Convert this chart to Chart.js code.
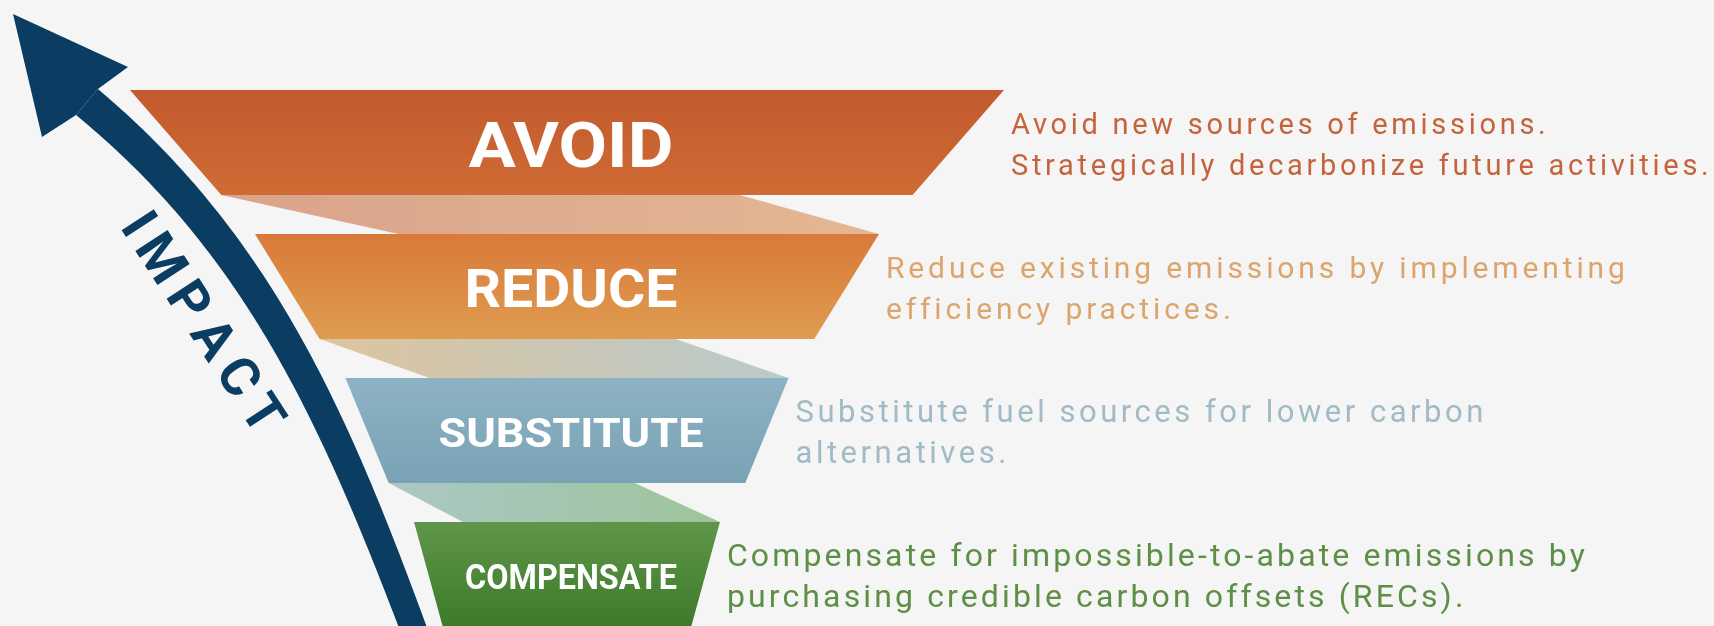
<!DOCTYPE html>
<html>
<head>
<meta charset="utf-8">
<script src="https://cdn.jsdelivr.net/npm/chart.js@4.4.0/dist/chart.umd.min.js"></script>
<style>
html,body{margin:0;padding:0;background:#f4f5f4;}
#wrap{width:1714px;height:626px;}
</style>
</head>
<body>
<div id="wrap"><canvas id="chart" width="1714" height="626"></canvas></div>
<script>

/* ================= DATA ================= */

let stages = ["AVOID","REDUCE","SUBSTITUTE","COMPENSATE"];

// funnel width of each stage, top edge and bottom edge (AVOID top = 100)
let topWidth = [100, 71.4, 50.7, 35.0];
let bottomWidth = [79.1, 56.6, 40.8, 28.4];

let descLine1 = [
"Avoid new sources of emissions.",
"Reduce existing emissions by implementing",
"Substitute fuel sources for lower carbon",
"Compensate for impossible-to-abate emissions by"
];
let descLine2 = [
"Strategically decarbonize future activities.",
"efficiency practices.",
"alternatives.",
"purchasing credible carbon offsets (RECs)."
];

let axisLabel = "IMPACT";

/* ================= STYLE ================= */

let stageColors = [["#c35a2d","#cf6b35"],["#d9793a","#df9d50"],["#8db2c3","#79a3b5"],["#5f9649","#3d7a2a"]];
let bandColors = [["#d9a38b","#e4b793"],["#ddc49f","#b9cacb"],["#abc8c5","#9ec49b"]];
let descColors = ["#c5643c","#dca56d","#a0bac6","#5e8f47"];
let navy = "#0b3c62";

let stageHalf = 0.365;              // half height of a stage, in y units
let bandTopFrac = [0.75,0.72,0.69];
let bandBottomFrac = [0.23,0.19,0.16];

let labelSize = [63,53,41,35];
let labelWidth = [205,213,265,212];
let descSize = [29,30,31,32];
let descWidth = [698,739,688,858];

// decoration: the impact arrow (pixels), shaft is a cubic curve
let arrowTip = [13,14], arrowCornerR = [128,67], arrowCornerL = [42,137];
let arrowCurve = [[87,102],[265,250],[340,430],[425,660]];
let impactFrom = [140,223], impactTo = [264,413];

/* ================= HELPERS ================= */

function poly(ctx,pts){
ctx.beginPath();
ctx.moveTo(pts[0][0],pts[0][1]);
for(let i=1;i<pts.length;i++) ctx.lineTo(pts[i][0],pts[i][1]);
ctx.closePath();
}

function lerp(a,b,t){ return a+(b-a)*t; }

function bezier(p,steps){
let out=[];
for(let s=0;s<=steps;s++){
let t=s/steps, u=1-t;
let a=u*u*u, b=3*u*u*t, c=3*u*t*t, d=t*t*t;
out.push([a*p[0][0]+b*p[1][0]+c*p[2][0]+d*p[3][0], a*p[0][1]+b*p[1][1]+c*p[2][1]+d*p[3][1]]);
}
return out;
}

/* ================= PLUGIN ================= */

const funnelPlugin = {
id:"funnel",
afterDatasetsDraw(chart){

let ctx = chart.ctx;
let xs = chart.scales.x, ys = chart.scales.y;
let meta = chart.getDatasetMeta(0);
let cx = xs.getPixelForValue(0);

let geo = stages.map((s,i)=>{
let cy = meta.data[i].y;
return {
cy:cy,
top:ys.getPixelForValue(i-stageHalf),
bot:ys.getPixelForValue(i+stageHalf),
tl:xs.getPixelForValue(-topWidth[i]/2),
tr:xs.getPixelForValue(topWidth[i]/2),
bl:xs.getPixelForValue(-bottomWidth[i]/2),
br:xs.getPixelForValue(bottomWidth[i]/2)
};
});

ctx.save();

// connecting bands
for(let i=0;i<geo.length-1;i++){
let a=geo[i], b=geo[i+1];
let pts=[[a.bl,a.bot],[lerp(a.bl,a.br,bandTopFrac[i]),a.bot],[b.tr,b.top],[lerp(b.tl,b.tr,bandBottomFrac[i]),b.top]];
let g=ctx.createLinearGradient(a.bl,0,b.tr,0);
g.addColorStop(0,bandColors[i][0]);
g.addColorStop(1,bandColors[i][1]);
ctx.fillStyle=g;
poly(ctx,pts);
ctx.fill();
}

// stages
geo.forEach((s,i)=>{
let g=ctx.createLinearGradient(0,s.top,0,s.bot);
g.addColorStop(0,stageColors[i][0]);
g.addColorStop(1,stageColors[i][1]);
ctx.fillStyle=g;
poly(ctx,[[s.tl,s.top],[s.tr,s.top],[s.br,s.bot],[s.bl,s.bot]]);
ctx.fill();

// label
ctx.font="bold "+labelSize[i]+"px Roboto";
ctx.fillStyle="#ffffff";
ctx.textAlign="center";
ctx.textBaseline="alphabetic";
let w=ctx.measureText(stages[i]).width;
ctx.save();
ctx.translate(cx+4, s.cy+2+labelSize[i]*0.711/2);
ctx.scale(labelWidth[i]/w,1);
ctx.fillText(stages[i],0,0);
ctx.restore();

// description
ctx.font=descSize[i]+"px Roboto";
ctx.fillStyle=descColors[i];
ctx.textAlign="left";
let l1=ctx.measureText(descLine1[i]).width, l2=ctx.measureText(descLine2[i]).width;
let longest = l1>l2 ? descLine1[i] : descLine2[i];
let sp=(descWidth[i]-Math.max(l1,l2))/(longest.length-1);
let x0=s.tr+7;
if("letterSpacing" in ctx){
ctx.letterSpacing=sp.toFixed(2)+"px";
ctx.fillText(descLine1[i],x0,s.cy-9);
ctx.fillText(descLine2[i],x0,s.cy+32);
ctx.letterSpacing="0px";
}else{
let k=descWidth[i]/Math.max(l1,l2);
ctx.save();ctx.translate(x0,0);ctx.scale(k,1);
ctx.fillText(descLine1[i],0,s.cy-9);
ctx.fillText(descLine2[i],0,s.cy+32);
ctx.restore();
}
});

// arrow shaft
let line=bezier(arrowCurve,80);
let n=line.length;
let left=[], right=[];
for(let i=0;i<n;i++){
let a=line[Math.max(i-1,0)], b=line[Math.min(i+1,n-1)];
let dx=b[0]-a[0], dy=b[1]-a[1], d=Math.hypot(dx,dy)||1;
let nx=dy/d, ny=-dx/d;
let hw=lerp(17,13,i/(n-1));
right.push([line[i][0]+nx*hw,line[i][1]+ny*hw]);
left.push([line[i][0]-nx*hw,line[i][1]-ny*hw]);
}
ctx.fillStyle=navy;
let notchR=right[0], notchL=left[0];
poly(ctx,right.concat(left.slice().reverse()));
ctx.fill();

// arrow head
poly(ctx,[arrowTip,arrowCornerR,notchR,notchL,arrowCornerL]);
ctx.fill();

// IMPACT along the arrow
ctx.font="bold 54px Roboto";
ctx.textAlign="center";
ctx.textBaseline="alphabetic";
let chars=axisLabel.split("");
let ws=chars.map(c=>ctx.measureText(c).width);
let L=Math.hypot(impactTo[0]-impactFrom[0],impactTo[1]-impactFrom[1]);
let inner=ws.reduce((a,b)=>a+b,0)-ws[0]/2-ws[ws.length-1]/2;
let gap=(L-inner)/(chars.length-1);
let ang=Math.atan2(impactTo[1]-impactFrom[1],impactTo[0]-impactFrom[0]);
let ux=Math.cos(ang), uy=Math.sin(ang);
let pos=0;
chars.forEach((c,i)=>{
if(i>0) pos+=ws[i-1]/2+gap+ws[i]/2;
ctx.save();
ctx.translate(impactFrom[0]+ux*pos, impactFrom[1]+uy*pos);
ctx.rotate(ang);
ctx.fillText(c,0,54*0.711/2);
ctx.restore();
});

ctx.restore();
}
};

/* ================= CHART ================= */

let ctx = document.getElementById("chart");

window.funnelChart = new Chart(ctx,{
type:"scatter",
data:{
datasets:[{
data:stages.map((s,i)=>({x:0,y:i})),
pointRadius:0,
pointHoverRadius:0
}]
},
options:{
responsive:false,
animation:false,
events:[],
layout:{padding:0},
plugins:{legend:{display:false},tooltip:{enabled:false}},
scales:{
x:{type:"linear",min:-64.87,max:131.24,display:false},
y:{type:"linear",min:-0.9896,max:3.3576,reverse:true,display:false}
}
},
plugins:[funnelPlugin]
});

</script>
</body>
</html>
